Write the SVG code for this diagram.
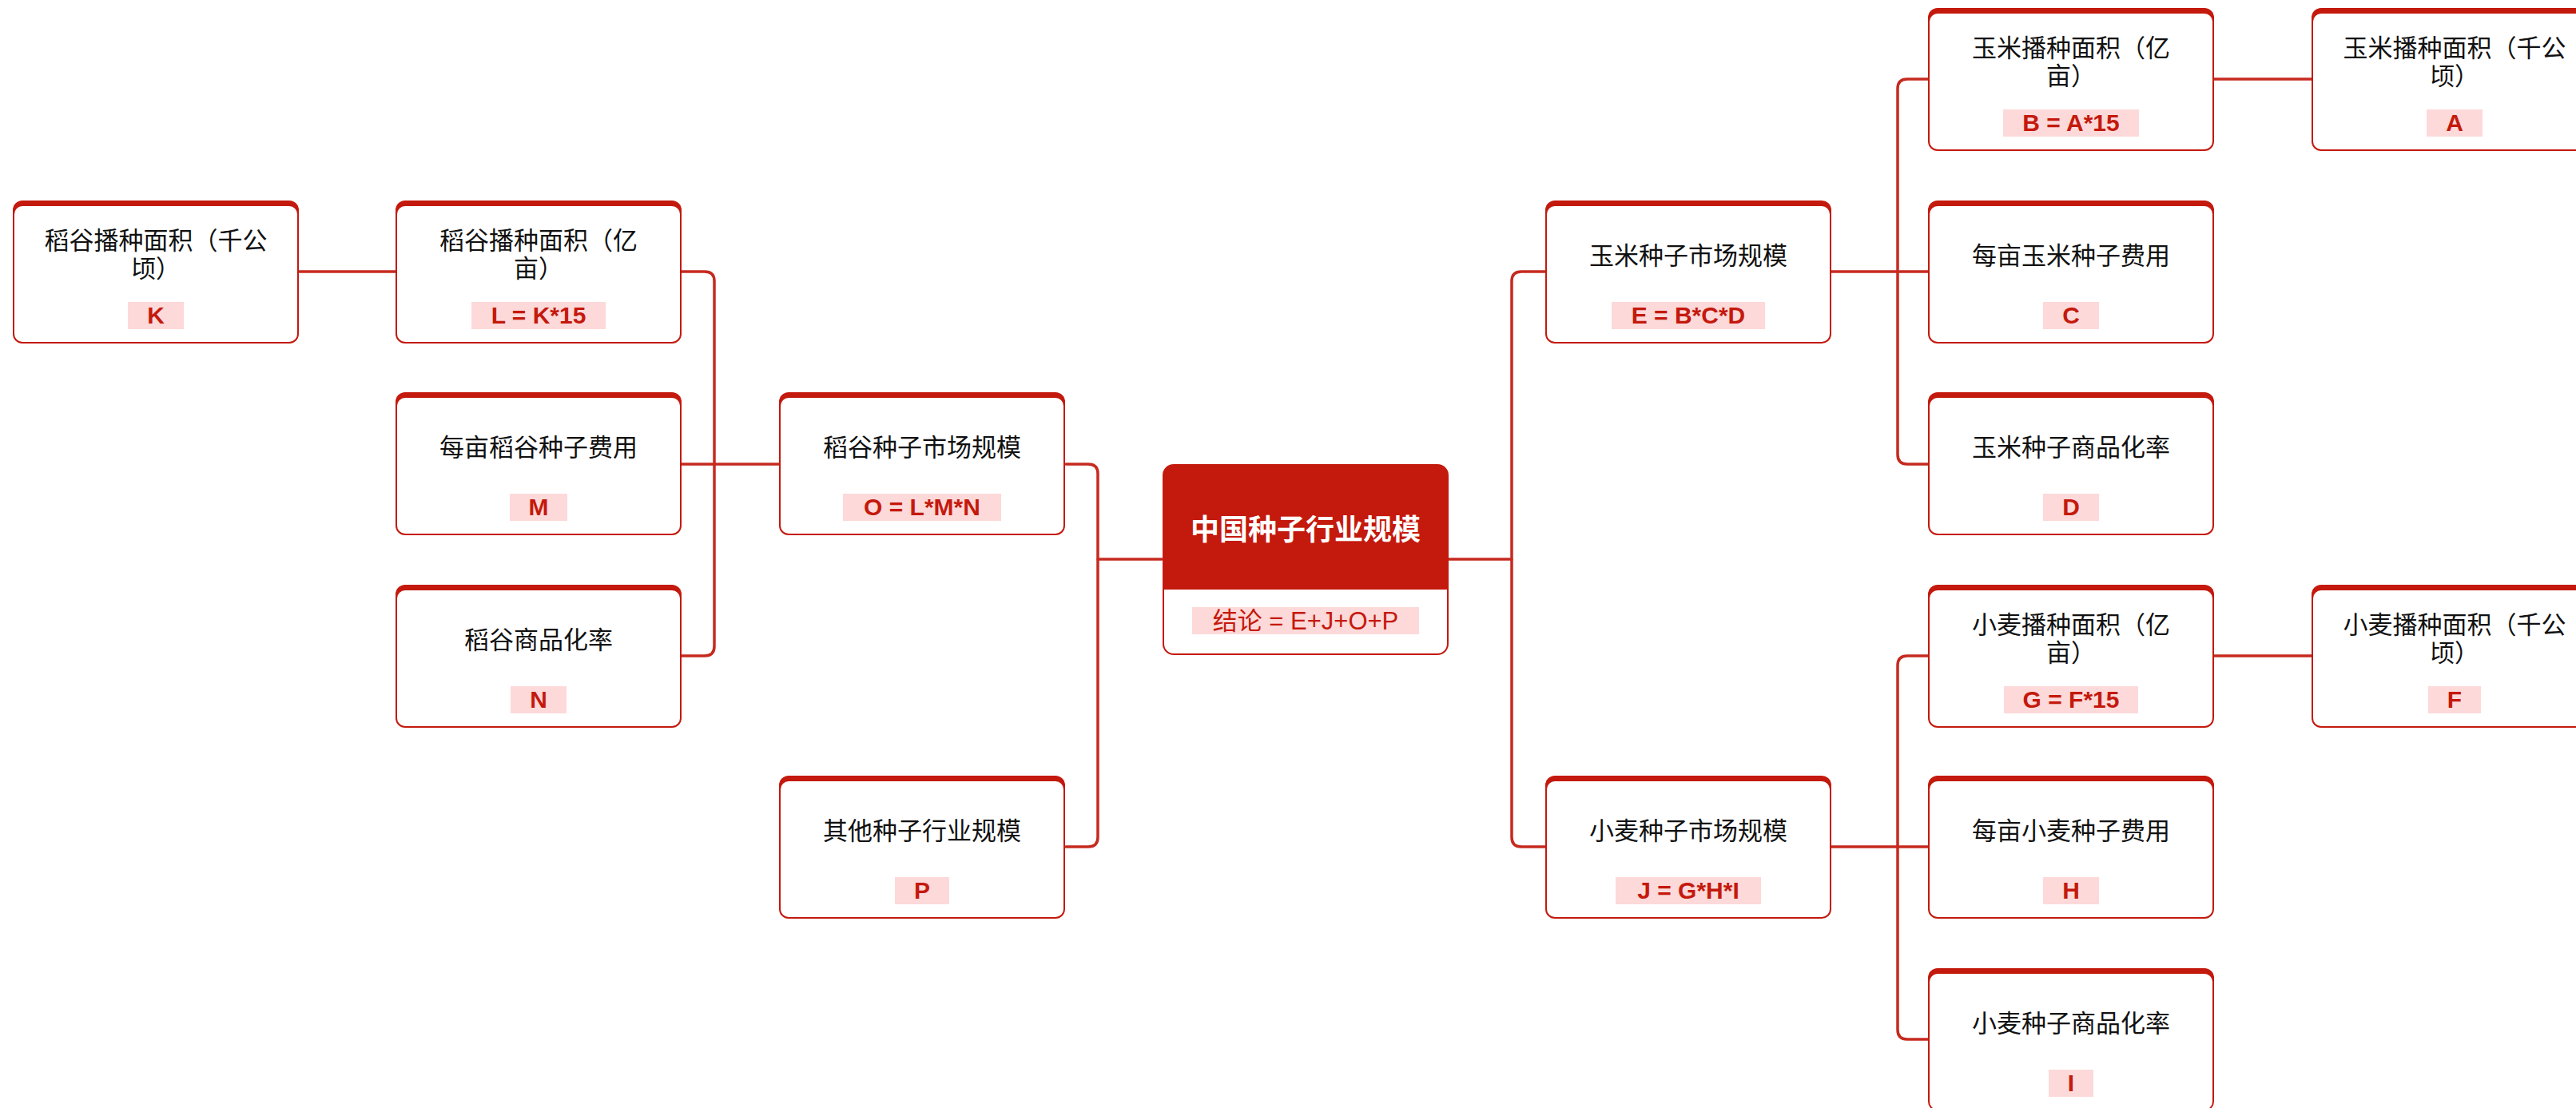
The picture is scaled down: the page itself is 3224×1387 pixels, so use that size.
<svg xmlns="http://www.w3.org/2000/svg" width="3224" height="1387" viewBox="0 0 3224 1387">
<style>
.outer{fill:#c4190d}
.inner{fill:#ffffff}
.edge{fill:none;stroke:#c62a1f;stroke-width:3.5;stroke-linecap:round;stroke-linejoin:round}
.t{font-family:"Liberation Sans","Noto Sans CJK SC",sans-serif;font-size:31px;fill:#111;text-anchor:middle}
.hl{fill:#fdd9d9}
.lb{font-family:"Liberation Sans","Noto Sans CJK SC",sans-serif;font-size:30px;font-weight:bold;fill:#c4190d;text-anchor:middle}
.ct{font-family:"Liberation Sans","Noto Sans CJK SC",sans-serif;font-size:36px;font-weight:bold;fill:#fff;text-anchor:middle}
.cl{font-family:"Liberation Sans","Noto Sans CJK SC",sans-serif;font-size:31px;fill:#c4190d;text-anchor:middle}
</style>
<defs>
<g id="box"><rect class="outer" width="358" height="179" rx="12"/><rect class="inner" x="2" y="7" width="354" height="170" rx="10"/></g>
</defs>
<g id="connectors">
<path class="edge" d="M374,340 H495"/>
<path class="edge" d="M975,581 H853"/>
<path class="edge" d="M853,340 H882 Q894,340 894,352 V809 Q894,821 882,821 H853"/>
<path class="edge" d="M1454,700 H1374"/>
<path class="edge" d="M1334,581 H1362 Q1374,581 1374,593 V1048 Q1374,1060 1362,1060 H1334"/>
<path class="edge" d="M1813,700 H1892"/>
<path class="edge" d="M1934,340 H1904 Q1892,340 1892,352 V1048 Q1892,1060 1904,1060 H1934"/>
<path class="edge" d="M2292,340 H2413"/>
<path class="edge" d="M2413,99 H2387 Q2375,99 2375,111 V569 Q2375,581 2387,581 H2413"/>
<path class="edge" d="M2292,1060 H2413"/>
<path class="edge" d="M2413,821 H2387 Q2375,821 2375,833 V1289 Q2375,1301 2387,1301 H2413"/>
<path class="edge" d="M2771,99 H2893"/>
<path class="edge" d="M2771,821 H2893"/>
</g>

<g id="node-K" transform="translate(16,251)"><use href="#box"/><text class="t" x="179" y="61">稻谷播种面积（千公</text><text class="t" x="179" y="96">顷）</text><rect class="hl" x="144" y="127" width="70" height="34"/><text class="lb" x="179" y="154">K</text></g>
<g id="node-L" transform="translate(495,251)"><use href="#box"/><text class="t" x="179" y="61">稻谷播种面积（亿</text><text class="t" x="179" y="96">亩）</text><rect class="hl" x="95" y="127" width="168" height="34"/><text class="lb" x="179" y="154">L = K*15</text></g>
<g id="node-M" transform="translate(495,491)"><use href="#box"/><text class="t" x="179" y="80">每亩稻谷种子费用</text><rect class="hl" x="143" y="127" width="72" height="34"/><text class="lb" x="179" y="154">M</text></g>
<g id="node-N" transform="translate(495,732)"><use href="#box"/><text class="t" x="179" y="80">稻谷商品化率</text><rect class="hl" x="144" y="127" width="70" height="34"/><text class="lb" x="179" y="154">N</text></g>
<g id="node-O" transform="translate(975,491)"><use href="#box"/><text class="t" x="179" y="80">稻谷种子市场规模</text><rect class="hl" x="80" y="127" width="198" height="34"/><text class="lb" x="179" y="154">O = L*M*N</text></g>
<g id="node-P" transform="translate(975,971)"><use href="#box"/><text class="t" x="179" y="80">其他种子行业规模</text><rect class="hl" x="145" y="127" width="68" height="34"/><text class="lb" x="179" y="154">P</text></g>

<g id="node-root" transform="translate(1455,581)">
<rect class="outer" width="358" height="239" rx="14"/>
<rect class="inner" x="2" y="157" width="354" height="80" rx="12"/>
<rect class="inner" x="2" y="157" width="354" height="20"/>
<text class="ct" x="179" y="95">中国种子行业规模</text>
<rect class="hl" x="37" y="179" width="284" height="34"/>
<text class="cl" x="179" y="207">结论 = E+J+O+P</text>
</g>

<g id="node-E" transform="translate(1934,251)"><use href="#box"/><text class="t" x="179" y="80">玉米种子市场规模</text><rect class="hl" x="83" y="127" width="192" height="34"/><text class="lb" x="179" y="154">E = B*C*D</text></g>
<g id="node-J" transform="translate(1934,971)"><use href="#box"/><text class="t" x="179" y="80">小麦种子市场规模</text><rect class="hl" x="88" y="127" width="182" height="34"/><text class="lb" x="179" y="154">J = G*H*I</text></g>
<g id="node-B" transform="translate(2413,10)"><use href="#box"/><text class="t" x="179" y="61">玉米播种面积（亿</text><text class="t" x="179" y="96">亩）</text><rect class="hl" x="94" y="127" width="170" height="34"/><text class="lb" x="179" y="154">B = A*15</text></g>
<g id="node-C" transform="translate(2413,251)"><use href="#box"/><text class="t" x="179" y="80">每亩玉米种子费用</text><rect class="hl" x="144" y="127" width="70" height="34"/><text class="lb" x="179" y="154">C</text></g>
<g id="node-D" transform="translate(2413,491)"><use href="#box"/><text class="t" x="179" y="80">玉米种子商品化率</text><rect class="hl" x="144" y="127" width="70" height="34"/><text class="lb" x="179" y="154">D</text></g>
<g id="node-G" transform="translate(2413,732)"><use href="#box"/><text class="t" x="179" y="61">小麦播种面积（亿</text><text class="t" x="179" y="96">亩）</text><rect class="hl" x="95" y="127" width="168" height="34"/><text class="lb" x="179" y="154">G = F*15</text></g>
<g id="node-H" transform="translate(2413,971)"><use href="#box"/><text class="t" x="179" y="80">每亩小麦种子费用</text><rect class="hl" x="144" y="127" width="70" height="34"/><text class="lb" x="179" y="154">H</text></g>
<g id="node-I" transform="translate(2413,1212)"><use href="#box"/><text class="t" x="179" y="80">小麦种子商品化率</text><rect class="hl" x="151" y="127" width="56" height="34"/><text class="lb" x="179" y="154">I</text></g>
<g id="node-A" transform="translate(2893,10)"><use href="#box"/><text class="t" x="179" y="61">玉米播种面积（千公</text><text class="t" x="179" y="96">顷）</text><rect class="hl" x="144" y="127" width="70" height="34"/><text class="lb" x="179" y="154">A</text></g>
<g id="node-F" transform="translate(2893,732)"><use href="#box"/><text class="t" x="179" y="61">小麦播种面积（千公</text><text class="t" x="179" y="96">顷）</text><rect class="hl" x="146" y="127" width="66" height="34"/><text class="lb" x="179" y="154">F</text></g>
</svg>
